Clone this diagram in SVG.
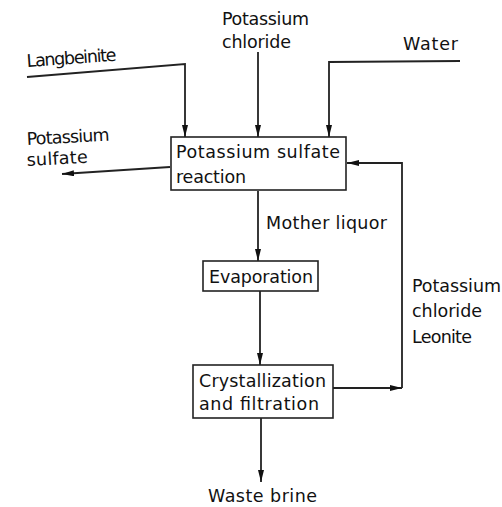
<svg xmlns="http://www.w3.org/2000/svg" width="502" height="507" viewBox="0 0 502 507">
<style>
text{font-family:"DejaVu Sans","Liberation Sans",sans-serif;font-size:17.5px;fill:#111}
.box{fill:#fff;stroke:#222;stroke-width:1.6}
.ln{fill:none;stroke:#222;stroke-width:1.8}
</style>
<defs>
<marker id="ah" viewBox="0 0 12 6" refX="12" refY="3" markerWidth="12" markerHeight="6" markerUnits="userSpaceOnUse" orient="auto">
<path d="M0,0 L12,3 L0,6 Z" fill="#111"/>
</marker>
</defs>
<rect width="502" height="507" fill="#fff"/>
<g id="connectors">
<path class="ln" d="M27,77 L185,64 L185,137" marker-end="url(#ah)"/>
<path class="ln" d="M258,52 L258,137" marker-end="url(#ah)"/>
<path class="ln" d="M460,61 L329,62 L329,137" marker-end="url(#ah)"/>
<path class="ln" d="M170,167 L62,174" marker-end="url(#ah)"/>
<path class="ln" d="M258,191 L258,261" marker-end="url(#ah)"/>
<path class="ln" d="M260,291 L260,365" marker-end="url(#ah)"/>
<path class="ln" d="M333,388 L402,388" marker-end="url(#ah)"/>
<path class="ln" d="M402,388 L402,163 L347,163" marker-end="url(#ah)"/>
<path class="ln" d="M261,418 L261,482" marker-end="url(#ah)"/>
</g>
<g id="labels">
<text x="27" y="67" textLength="90" transform="rotate(-4 27 67)">Langbeinite</text>
<text x="222" y="25" textLength="87">Potassium</text>
<text x="222" y="48" textLength="69">chloride</text>
<text x="403" y="50" textLength="55">Water</text>
<text x="27" y="145" textLength="83" transform="rotate(-3 27 145)">Potassium</text>
<text x="27" y="166" textLength="61" transform="rotate(-3 27 166)">sulfate</text>
<text x="266" y="229" textLength="121">Mother liquor</text>
<text x="412" y="292" textLength="89">Potassium</text>
<text x="412" y="317" textLength="70">chloride</text>
<text x="412" y="343" textLength="60">Leonite</text>
<text x="208" y="502" textLength="109">Waste brine</text>
</g>
<g id="reaction">
<rect class="box" x="171" y="137" width="175" height="53"/>
<text x="176" y="158" textLength="164">Potassium sulfate</text>
<text x="176" y="183" textLength="70">reaction</text>
</g>
<g id="evaporation">
<rect class="box" x="203" y="261" width="115" height="30"/>
<text x="209" y="283" textLength="104">Evaporation</text>
</g>
<g id="crystallization">
<rect class="box" x="193" y="365" width="140" height="53"/>
<text x="199" y="387" textLength="127">Crystallization</text>
<text x="199" y="410" textLength="120">and filtration</text>
</g>
</svg>
